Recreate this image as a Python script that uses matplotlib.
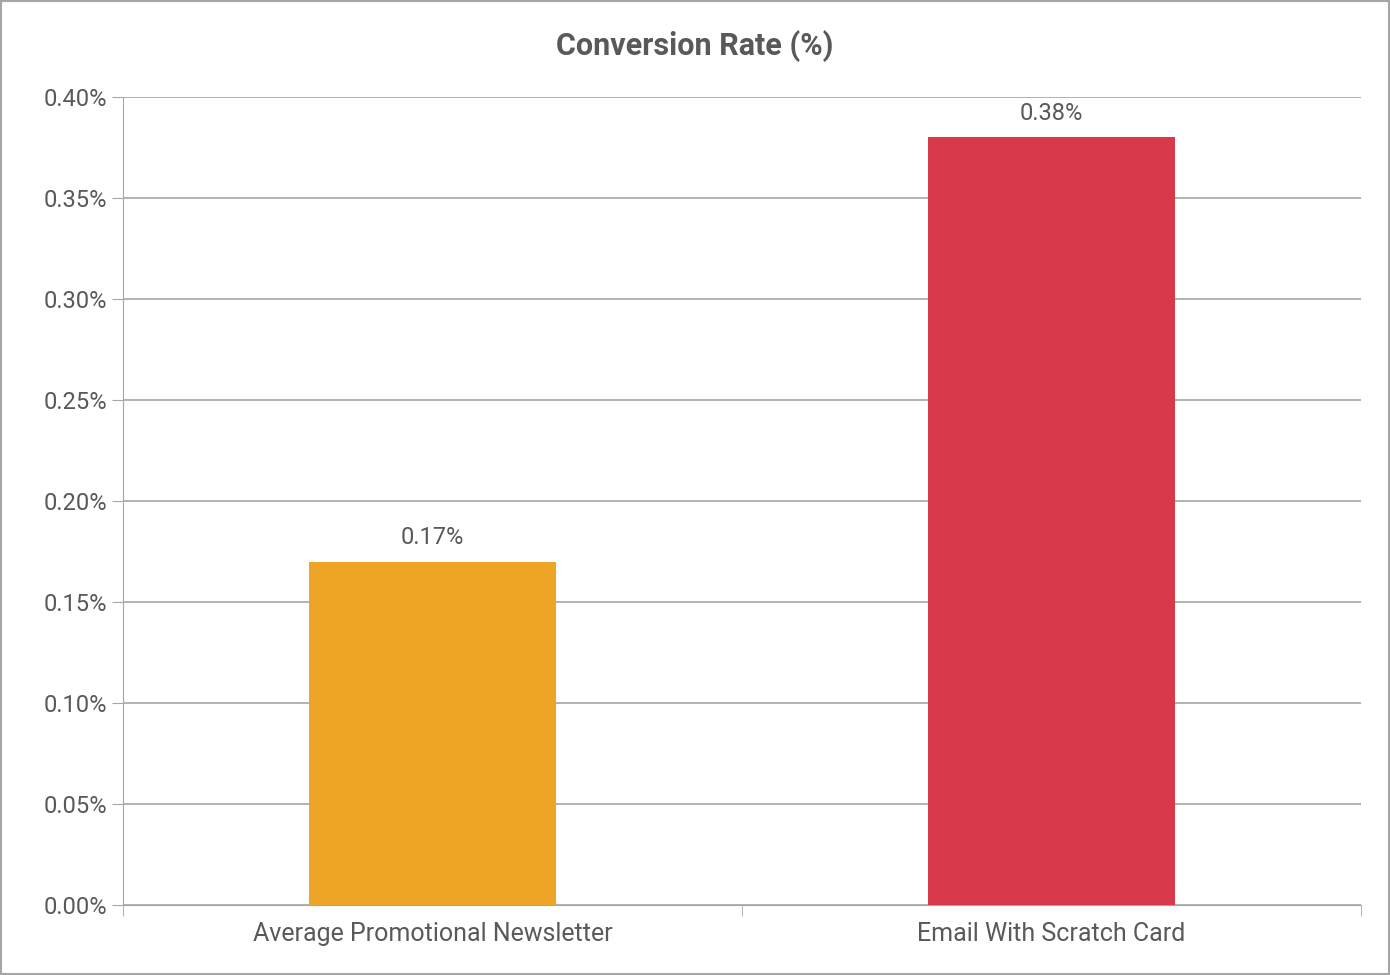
import matplotlib.pyplot as plt
from matplotlib.ticker import FuncFormatter

categories = ["Average Promotional Newsletter", "Email With Scratch Card"]
values = [0.17, 0.38]
colors = ["#EEA427", "#D83A4C"]

plt.rcParams["font.family"] = "Roboto"
txt = "#595959"

fig = plt.figure(figsize=(13.9, 9.75), dpi=100)
ax = fig.add_axes([0.0885, 0.0718, 0.979 - 0.0885, 0.9005 - 0.0718])
fig.patches.append(plt.Rectangle((0.001, 0.001), 0.998, 0.998, transform=fig.transFigure,
                                 fill=False, edgecolor="#A6A6A6", linewidth=1.5))

pos = [0.5, 1.5]
bars = ax.bar(pos, values, width=0.4, color=colors, zorder=3)
for b, v in zip(bars, values):
    ax.text(b.get_x() + b.get_width() / 2, v + 0.006, f"{v:.2f}%", ha="center", va="bottom",
            fontsize=17, color=txt)

ax.set_xlim(0, 2)
ax.set_ylim(0, 0.40)
ax.set_yticks([i * 0.05 for i in range(9)])
ax.yaxis.set_major_formatter(FuncFormatter(lambda y, _: f"{y:.2f}%"))
ax.set_xticks(pos)
ax.set_xticklabels(categories)
ax.set_xticks([0, 1, 2], minor=True)
ax.tick_params(axis="x", which="major", length=0, pad=12, labelsize=18, labelcolor=txt)
ax.tick_params(axis="x", which="minor", length=8, color="#A6A6A6")
ax.tick_params(axis="y", length=8, color="#A6A6A6", labelsize=17, labelcolor=txt)
ax.grid(axis="y", color="#A6A6A6", linewidth=1.2, zorder=0)
for s in ["top", "right"]:
    ax.spines[s].set_visible(False)
for s in ["left", "bottom"]:
    ax.spines[s].set_color("#A6A6A6")

fig.text(0.5, 0.953, "Conversion Rate (%)", ha="center", va="center", fontsize=22,
         color=txt, fontweight="bold")

fig.savefig("out.png", dpi=100)
